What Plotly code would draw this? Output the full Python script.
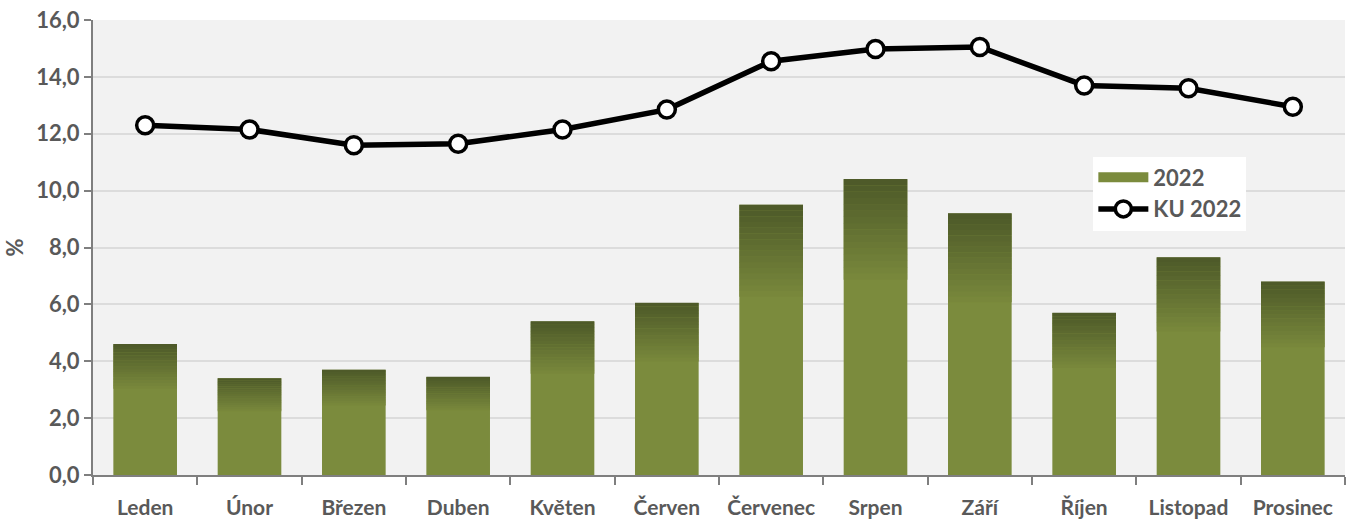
import plotly.graph_objects as go

months = ["Leden", "Únor", "Březen", "Duben", "Květen", "Červen",
          "Červenec", "Srpen", "Září", "Říjen", "Listopad", "Prosinec"]
values_2022 = [4.6, 3.4, 3.7, 3.45, 5.4, 6.05, 9.5, 10.4, 9.2, 5.7, 7.65, 6.8]
values_ku_2022 = [12.3, 12.15, 11.6, 11.65, 12.15, 12.85, 14.55, 14.98, 15.05, 13.7, 13.6, 12.95]

LIGHT = (123, 139, 61)
DARK = (78, 90, 41)
TEXT = "#595959"
FONT = "Lato"

fig = go.Figure()

# base bar (solid olive)
fig.add_trace(go.Bar(
    x=months, y=values_2022, name="2022", width=0.61,
    marker=dict(color="rgb(%d,%d,%d)" % LIGHT, line=dict(width=0)),
    showlegend=False,
))

# darker bands near the top to imitate the Excel gradient fill
n_bands = 16
start = 0.66
for k in range(n_bands):
    f0 = start + (1 - start) * k / n_bands
    f1 = start + (1 - start) * (k + 1) / n_bands
    t = (k + 1) / n_bands
    col = tuple(int(LIGHT[i] + (DARK[i] - LIGHT[i]) * t) for i in range(3))
    fig.add_trace(go.Bar(
        x=months, y=[v * (f1 - f0) + 0.005 for v in values_2022],
        base=[v * f0 for v in values_2022], width=0.61,
        marker=dict(color="rgb(%d,%d,%d)" % col, line=dict(width=0)),
        showlegend=False, hoverinfo="skip",
    ))

# legend proxy so the "2022" key is a wide bar like in Excel
fig.add_trace(go.Scatter(
    x=[months[0]], y=[None], name="2022", mode="lines",
    line=dict(color="rgb(%d,%d,%d)" % LIGHT, width=14),
    hoverinfo="skip",
))

fig.add_trace(go.Scatter(
    x=months, y=values_ku_2022, name="KU 2022", mode="lines+markers",
    line=dict(color="black", width=5.5),
    marker=dict(symbol="circle", size=17, color="white",
                line=dict(color="black", width=3.5)),
))

fig.update_layout(
    width=1353, height=521,
    margin=dict(l=93, r=8, t=20, b=46),
    paper_bgcolor="white", plot_bgcolor="#F2F2F2",
    barmode="overlay", separators=", ",
    font=dict(family=FONT, size=20, color=TEXT),
    showlegend=True,
    legend=dict(
        x=0.799, y=0.70, xanchor="left", yanchor="top",
        bgcolor="white", borderwidth=0,
        font=dict(family=FONT, size=22, color=TEXT, weight="bold"),
        itemwidth=50, tracegroupgap=0,
    ),
)

fig.update_xaxes(
    type="category", showgrid=False, automargin=False, tickangle=0,
    range=[-0.5, len(months) - 0.5],
    showline=True, linecolor="#7F7F7F", linewidth=2,
    ticks="outside", tickson="boundaries", ticklen=8, tickwidth=2, tickcolor="#7F7F7F",
    ticklabelstandoff=13,
    tickfont=dict(family=FONT, size=21, color=TEXT, weight="bold"),
)
fig.update_yaxes(
    range=[0, 16], dtick=2, tickformat=".1f", automargin=False,
    showgrid=True, gridcolor="#DCDCDC", gridwidth=1.5,
    showline=True, linecolor="#7F7F7F", linewidth=2,
    ticks="outside", ticklen=7, tickwidth=2, tickcolor="#7F7F7F",
    tickfont=dict(family=FONT, size=22, color=TEXT, weight="bold"),
    title=dict(text="%", font=dict(family=FONT, size=22, color=TEXT, weight="bold"), standoff=6),
    zeroline=False,
)

# drop the default 8px page margin so the figure sits at the window corner
fig.write_html("out.html", config={"displayModeBar": False},
               post_script="document.body.style.margin='0px';")
